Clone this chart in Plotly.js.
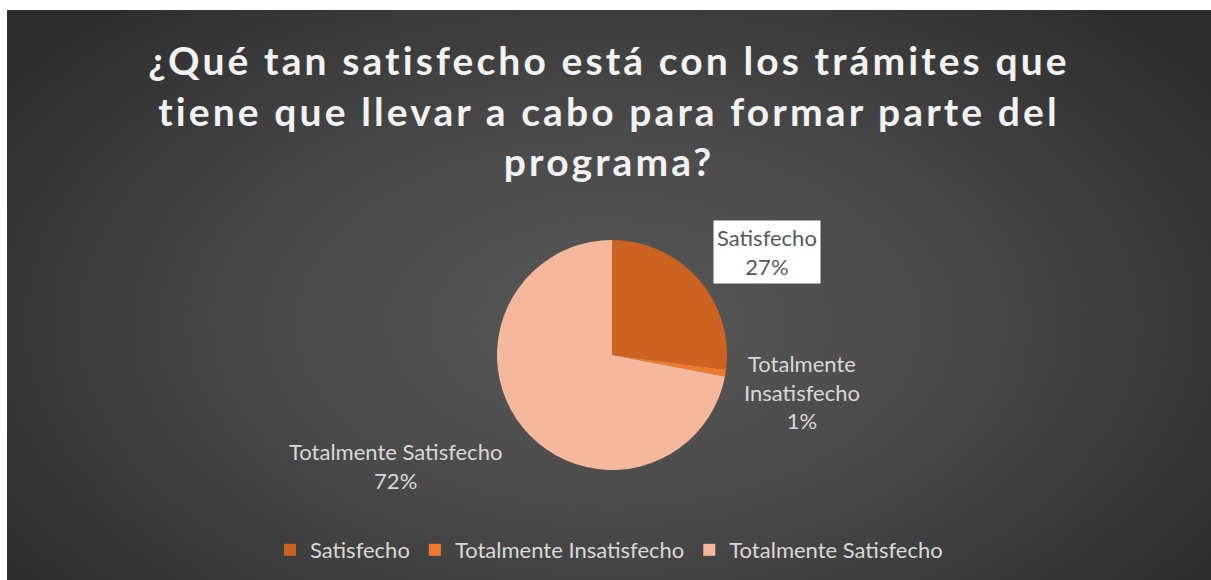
<!DOCTYPE html>
<html>
<head>
<meta charset="utf-8">
<script src="https://cdn.plot.ly/plotly-3.0.1.min.js"></script>
<style>
  html, body { margin: 0; padding: 0; background: #ffffff; }
  #chart {
    position: absolute; left: 7px; top: 10px; width: 1204px; height: 570px;
    background: radial-gradient(ellipse 60% 75% at 50% 55%, #585858 0%, #4a4a4a 45%, #2e2e2e 100%);
  }
  #chart .gtitle { letter-spacing: 3.1px; }
</style>
</head>
<body>
<div id="chart"></div>
<script>
const titleText = '¿Qué tan satisfecho está con los trámites que<br>tiene que llevar a cabo para formar parte del<br>programa?';
const categories = ['Satisfecho', 'Totalmente Insatisfecho', 'Totalmente Satisfecho'];
const values = [27, 1, 72];
const labelLines = ['Satisfecho', 'Totalmente<br>Insatisfecho', 'Totalmente Satisfecho'];
const colors = ['#cc6320', '#ee7a2c', '#f6b89d'];

const total = values.reduce((a, b) => a + b, 0);
const pct = values.map(v => Math.round(v / total * 100) + '%');

const labelPos = [
  {x: 760, y: 242, box: true},
  {x: 795, y: 382, box: false},
  {x: 388, y: 456, box: false}
];
const W = 1204, H = 570;

const annotations = categories.map((c, i) => ({
  xref: 'paper', yref: 'paper',
  x: labelPos[i].x / W, y: 1 - labelPos[i].y / H,
  xanchor: 'center', yanchor: 'middle',
  text: labelLines[i] + '<br>' + pct[i],
  showarrow: false,
  align: 'center',
  font: {family: 'Lato, sans-serif', size: 22, color: labelPos[i].box ? '#595959' : '#d9d9d9'},
  bgcolor: labelPos[i].box ? '#ffffff' : 'rgba(0,0,0,0)',
  borderpad: 3
}));

const data = [{
  type: 'pie',
  labels: categories,
  values: values,
  sort: false,
  direction: 'clockwise',
  rotation: 0,
  marker: {colors: colors, line: {width: 0}},
  textinfo: 'none',
  hoverinfo: 'label+percent',
  domain: {x: [490 / W, 720 / W], y: [(225 - 115) / H, (225 + 115) / H]}
}];

const layout = {
  width: W, height: H,
  paper_bgcolor: 'rgba(0,0,0,0)',
  plot_bgcolor: 'rgba(0,0,0,0)',
  margin: {l: 0, r: 0, t: 0, b: 0},
  title: {
    text: titleText,
    x: 0.5, xanchor: 'center',
    y: 1 - 65 / H, yanchor: 'middle',
    font: {family: 'Lato, sans-serif', size: 39, color: '#f2f2f2', weight: 'bold'}
  },
  showlegend: true,
  legend: {
    orientation: 'h',
    x: 0.5, xanchor: 'center',
    y: 1 - 540 / H, yanchor: 'middle',
    font: {family: 'Lato, sans-serif', size: 22, color: '#d9d9d9'},
    itemwidth: 30,
    bgcolor: 'rgba(0,0,0,0)'
  },
  annotations: annotations
};

Plotly.newPlot('chart', data, layout, {displayModeBar: false, staticPlot: true});
</script>
</body>
</html>
